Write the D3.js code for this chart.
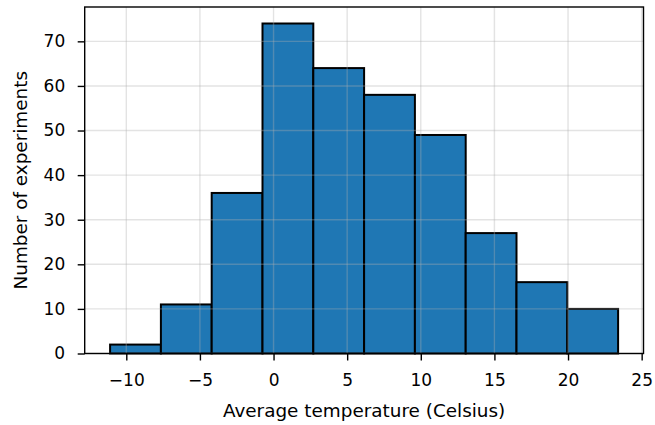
<!DOCTYPE html>
<html><head><meta charset="utf-8">
<script src="https://cdn.jsdelivr.net/npm/d3@7"></script>
<style>
html,body{margin:0;padding:0;background:#fff;}
svg{display:block;font-family:"DejaVu Sans",sans-serif;}
</style></head>
<body>
<svg id="chart" width="655" height="425"></svg>
<script>
// Data
const binEdges = [-11.1, -7.65, -4.2, -0.75, 2.7, 6.15, 9.6, 13.05, 16.5, 19.95, 23.4];
const counts = [2, 11, 36, 74, 64, 58, 49, 27, 16, 10];
const xTicks = [-10, -5, 0, 5, 10, 15, 20, 25];
const yTicks = [0, 10, 20, 30, 40, 50, 60, 70];
const xLabel = "Average temperature (Celsius)";
const yLabel = "Number of experiments";

const svg = d3.select("#chart");
const L = 84.7, R = 643.5, T = 7, B = 353.5;
const span = binEdges[binEdges.length-1] - binEdges[0];
const x = d3.scaleLinear()
  .domain([binEdges[0] - 0.05*span, binEdges[binEdges.length-1] + 0.05*span])
  .range([L, R]);
const y = d3.scaleLinear().domain([0, d3.max(counts)*1.05]).range([B, T]);

const bins = counts.map((c,i)=>({x0:binEdges[i], x1:binEdges[i+1], c}));

svg.append("g").selectAll("rect").data(bins).join("rect")
  .attr("x", d=>x(d.x0)).attr("y", d=>y(d.c))
  .attr("width", d=>x(d.x1)-x(d.x0)).attr("height", d=>y(0)-y(d.c))
  .attr("fill", "#1f77b4").attr("stroke", "#000").attr("stroke-width", 2);

// grid on top
const grid = svg.append("g").attr("stroke", "#b0b0b0").attr("stroke-opacity", 0.35).attr("stroke-width", 1.4);
grid.selectAll("line.v").data(xTicks.filter(t=>x(t)<R-1)).join("line").attr("class","v")
  .attr("x1", d=>x(d)).attr("x2", d=>x(d)).attr("y1", T).attr("y2", B);
grid.selectAll("line.h").data(yTicks).join("line").attr("class","h")
  .attr("y1", d=>y(d)).attr("y2", d=>y(d)).attr("x1", L).attr("x2", R);

const fmt = d => (d<0 ? "\u2212"+Math.abs(d) : String(d));

const xAxis = svg.append("g").attr("transform", `translate(0,${B})`)
  .call(d3.axisBottom(x).tickValues(xTicks).tickFormat(fmt).tickSize(7).tickPadding(13.5));
const yAxis = svg.append("g").attr("transform", `translate(${L},0)`)
  .call(d3.axisLeft(y).tickValues(yTicks).tickFormat(fmt).tickSize(7).tickPadding(12.5));
[xAxis, yAxis].forEach(a=>{
  a.select(".domain").remove();
  a.selectAll(".tick line").attr("stroke", "#000").attr("stroke-width", 1.4);
  a.selectAll(".tick text").attr("fill", "#000").style("font-size", "17px").style("font-family", "DejaVu Sans");
});
xAxis.selectAll(".tick text").attr("dy", "0.71em");

// frame
svg.append("rect").attr("x", L).attr("y", T).attr("width", R-L).attr("height", B-T)
  .attr("fill", "none").attr("stroke", "#000").attr("stroke-width", 1.4);

svg.append("text").attr("x", (L+R)/2).attr("y", 416.5).attr("text-anchor", "middle")
  .style("font-size", "18.4px").attr("fill", "#000").text(xLabel);
svg.append("text").attr("transform", `translate(27,${(T+B)/2}) rotate(-90)`).attr("text-anchor", "middle")
  .style("font-size", "18.4px").attr("fill", "#000").text(yLabel);
</script>
</body></html>
